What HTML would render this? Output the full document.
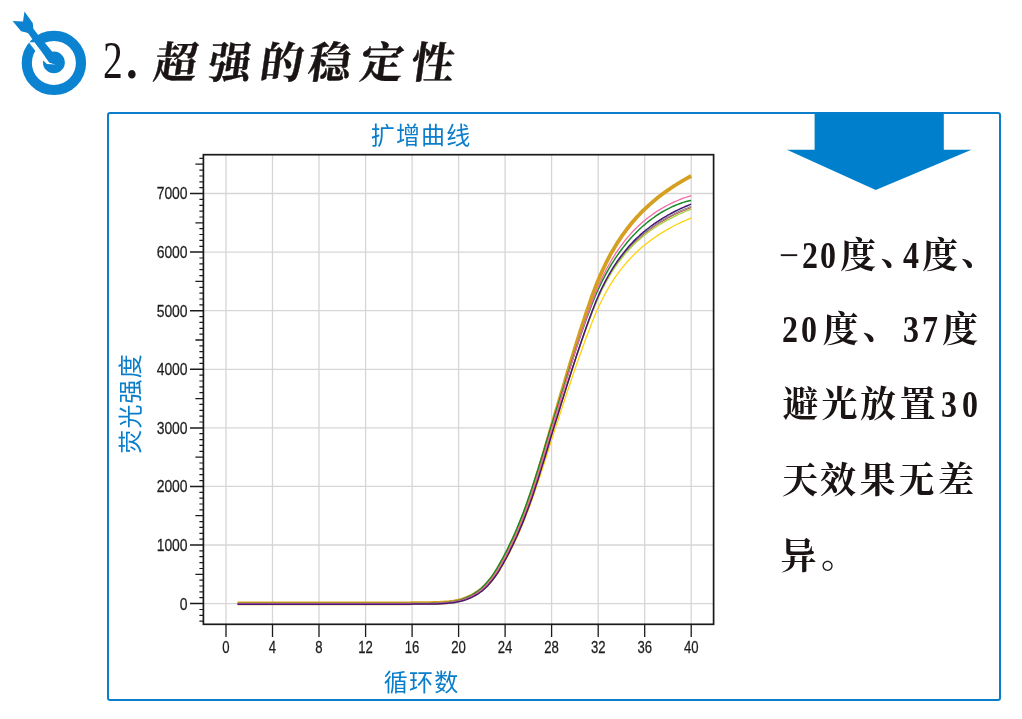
<!DOCTYPE html>
<html lang="zh-CN">
<head>
<meta charset="utf-8">
<title>2. 超强的稳定性</title>
<style>
html,body{margin:0;padding:0;background:#fff;}
body{width:1022px;height:719px;position:relative;overflow:hidden;font-family:"Liberation Sans","Noto Sans CJK SC",sans-serif;}
.icon{position:absolute;left:0;top:0;}
.chart{position:absolute;left:0;top:0;}
.panel{position:absolute;left:107px;top:112px;width:890px;height:585px;border:2px solid #0a7ecb;border-radius:3px;}
.title{position:absolute;left:0;top:0;width:520px;height:110px;color:#1b1414;}
.title .num{position:absolute;left:102.5px;top:31px;font-family:"Liberation Serif","Noto Serif CJK SC",serif;font-size:52px;line-height:60px;transform:scaleX(0.76);transform-origin:0 0;white-space:pre;}
.title .num.dot{left:126px;font-weight:700;transform:scaleX(0.9);}
.title .zh span{position:absolute;top:34px;width:60px;text-align:center;font-family:"Liberation Serif","Noto Serif CJK SC",serif;font-weight:700;font-size:43px;line-height:60px;transform:skewX(-8deg);-webkit-text-stroke:0.4px #1b1414;}
.lbl{position:absolute;color:#0a7ecb;font-family:"Liberation Sans","Noto Sans CJK SC",sans-serif;font-size:24px;line-height:30px;white-space:nowrap;letter-spacing:1.2px;text-indent:1.2px;}
.ctitle{left:369.5px;top:120.5px;width:100px;text-align:center;}
.xlab{left:371px;top:667.5px;width:100px;text-align:center;}
.ylab{left:81.3px;top:389.5px;width:100px;text-align:center;transform:rotate(-90deg);}
.arrow{position:absolute;left:0;top:0;}
.ln{position:absolute;left:0;height:60px;width:1022px;}
.ln span{position:absolute;top:0;width:60px;text-align:center;line-height:60px;font-size:38px;color:#1b1414;font-weight:700;font-family:"Liberation Serif","Noto Serif CJK SC",serif;}
.ln span.c,.ln span.p{font-size:36px;}
.ln span.l{transform:translateY(-1.5px) scaleX(0.84);}
.ln span.m{font-weight:400;transform:translateY(-1px) scaleX(0.93);}
.ln span.p{transform:translate(10.5px,-3.5px);}
.ln span.q{font-size:36px;transform:translate(11px,-1.5px);}
</style>
</head>
<body>
<svg class="icon" width="100" height="100" viewBox="0 0 100 100">
<circle cx="53.9" cy="62.9" r="27.1" fill="none" stroke="#0b83d1" stroke-width="10.2"/>
<circle cx="53.9" cy="62.4" r="10.9" fill="#0b83d1"/>
<path d="M28.76,42.27 L35.64,51.28 L41.59,59.1 L46.9,64.1 L55.67,64.55 L49.4,62.55 L35.83,43.77 L34.77,42.27 Z" fill="#fff"/>
<path d="M24.47,11.6 L32.75,23.0 L33.4,28.86 L37.83,34.39 L51.9,51.28 L53.8,56.3 L55.67,64.55 L49.41,62.55 L28.14,33.14 L26.26,32.5 L21.07,31.3 L12.6,21.0 L23.0,21.6 Z" fill="#0b83d1"/>
</svg>
<div class="title"><div class="num">2</div><div class="num dot">.</div><div class="zh"><span style="left:146px">超</span><span style="left:199.5px">强</span><span style="left:251.5px">的</span><span style="left:299.5px">稳</span><span style="left:351.5px">定</span><span style="left:403px">性</span></div></div>
<div class="panel"></div>
<div class="lbl ctitle">扩增曲线</div>
<svg class="chart" width="1022" height="719" viewBox="0 0 1022 719">
<path d="M226.0,154.7 V624.3 M272.5,154.7 V624.3 M319.0,154.7 V624.3 M365.6,154.7 V624.3 M412.1,154.7 V624.3 M458.6,154.7 V624.3 M505.1,154.7 V624.3 M551.6,154.7 V624.3 M598.2,154.7 V624.3 M644.7,154.7 V624.3 M691.2,154.7 V624.3 M203.4,603.6 H713.6 M203.4,545.0 H713.6 M203.4,486.4 H713.6 M203.4,427.9 H713.6 M203.4,369.3 H713.6 M203.4,310.7 H713.6 M203.4,252.1 H713.6 M203.4,193.5 H713.6" stroke="#d6d6d6" stroke-width="1.3" fill="none"/>
<path d="M237.6,603.3 L239.6,603.3 L241.5,603.3 L243.4,603.3 L245.4,603.3 L247.3,603.3 L249.3,603.3 L251.2,603.3 L253.1,603.3 L255.1,603.3 L257.0,603.3 L259.0,603.3 L260.9,603.3 L262.8,603.3 L264.8,603.3 L266.7,603.3 L268.6,603.3 L270.6,603.3 L272.5,603.3 L274.5,603.3 L276.4,603.3 L278.3,603.3 L280.3,603.3 L282.2,603.3 L284.1,603.3 L286.1,603.3 L288.0,603.3 L290.0,603.3 L291.9,603.3 L293.8,603.3 L295.8,603.3 L297.7,603.3 L299.7,603.3 L301.6,603.3 L303.5,603.3 L305.5,603.3 L307.4,603.3 L309.3,603.3 L311.3,603.3 L313.2,603.3 L315.2,603.3 L317.1,603.3 L319.0,603.3 L321.0,603.3 L322.9,603.3 L324.9,603.3 L326.8,603.3 L328.7,603.3 L330.7,603.3 L332.6,603.3 L334.5,603.3 L336.5,603.3 L338.4,603.3 L340.4,603.3 L342.3,603.3 L344.2,603.3 L346.2,603.3 L348.1,603.3 L350.1,603.3 L352.0,603.3 L353.9,603.3 L355.9,603.3 L357.8,603.3 L359.7,603.3 L361.7,603.3 L363.6,603.3 L365.6,603.3 L367.5,603.3 L369.4,603.3 L371.4,603.3 L373.3,603.3 L375.3,603.3 L377.2,603.3 L379.1,603.3 L381.1,603.3 L383.0,603.3 L384.9,603.3 L386.9,603.3 L388.8,603.3 L390.8,603.3 L392.7,603.3 L394.6,603.3 L396.6,603.3 L398.5,603.3 L400.5,603.3 L402.4,603.3 L404.3,603.3 L406.3,603.3 L408.2,603.3 L410.1,603.3 L412.1,603.2 L414.0,603.2 L416.0,603.2 L417.9,603.2 L419.8,603.2 L421.8,603.2 L423.7,603.2 L425.6,603.2 L427.6,603.1 L429.5,603.1 L431.5,603.1 L433.4,603.0 L435.3,603.0 L437.3,602.9 L439.2,602.8 L441.2,602.7 L443.1,602.6 L445.0,602.4 L447.0,602.3 L448.9,602.1 L450.8,601.8 L452.8,601.6 L454.7,601.3 L456.7,600.9 L458.6,600.5 L460.5,600.1 L462.5,599.5 L464.4,598.8 L466.4,598.1 L468.3,597.3 L470.2,596.4 L472.2,595.5 L474.1,594.4 L476.0,593.2 L478.0,591.9 L479.9,590.5 L481.9,589.0 L483.8,587.2 L485.7,585.3 L487.7,583.2 L489.6,580.9 L491.6,578.4 L493.5,575.9 L495.4,573.1 L497.4,570.1 L499.3,566.8 L501.2,563.4 L503.2,559.9 L505.1,556.4 L507.1,552.7 L509.0,548.9 L510.9,544.9 L512.9,540.8 L514.8,536.6 L516.8,532.2 L518.7,527.7 L520.6,523.1 L522.6,518.2 L524.5,513.2 L526.4,508.1 L528.4,502.7 L530.3,497.1 L532.3,491.2 L534.2,485.1 L536.1,478.9 L538.1,472.5 L540.0,466.2 L541.9,459.7 L543.9,453.1 L545.8,446.4 L547.8,439.6 L549.7,432.9 L551.6,426.3 L553.6,419.7 L555.5,413.1 L557.5,406.6 L559.4,400.0 L561.3,393.5 L563.3,387.0 L565.2,380.5 L567.1,374.0 L569.1,367.5 L571.0,361.0 L573.0,354.7 L574.9,348.4 L576.8,342.2 L578.8,336.0 L580.7,329.9 L582.7,323.9 L584.6,318.0 L586.5,312.2 L588.5,306.6 L590.4,300.9 L592.3,295.5 L594.3,290.1 L596.2,285.1 L598.2,280.3 L600.1,275.8 L602.0,271.4 L604.0,267.2 L605.9,263.2 L607.9,259.4 L609.8,255.7 L611.7,252.2 L613.7,248.9 L615.6,245.7 L617.5,242.6 L619.5,239.6 L621.4,236.7 L623.4,233.9 L625.3,231.3 L627.2,228.7 L629.2,226.2 L631.1,223.8 L633.0,221.5 L635.0,219.2 L636.9,217.1 L638.9,215.0 L640.8,212.9 L642.7,211.0 L644.7,209.1 L646.6,207.3 L648.6,205.5 L650.5,203.8 L652.4,202.1 L654.4,200.5 L656.3,198.9 L658.2,197.3 L660.2,195.8 L662.1,194.3 L664.1,192.9 L666.0,191.5 L667.9,190.1 L669.9,188.8 L671.8,187.5 L673.8,186.2 L675.7,185.0 L677.6,183.7 L679.6,182.6 L681.5,181.4 L683.4,180.3 L685.4,179.2 L687.3,178.1 L689.3,177.0 L691.2,176.0" stroke="#d5a021" stroke-width="3.8" fill="none" stroke-linejoin="round"/>
<path d="M237.6,603.6 L239.6,603.6 L241.5,603.6 L243.4,603.6 L245.4,603.6 L247.3,603.6 L249.3,603.6 L251.2,603.6 L253.1,603.6 L255.1,603.6 L257.0,603.6 L259.0,603.6 L260.9,603.6 L262.8,603.6 L264.8,603.6 L266.7,603.6 L268.6,603.6 L270.6,603.6 L272.5,603.6 L274.5,603.6 L276.4,603.6 L278.3,603.6 L280.3,603.6 L282.2,603.6 L284.1,603.6 L286.1,603.6 L288.0,603.6 L290.0,603.6 L291.9,603.6 L293.8,603.6 L295.8,603.6 L297.7,603.6 L299.7,603.6 L301.6,603.6 L303.5,603.6 L305.5,603.6 L307.4,603.6 L309.3,603.6 L311.3,603.6 L313.2,603.6 L315.2,603.6 L317.1,603.6 L319.0,603.6 L321.0,603.6 L322.9,603.6 L324.9,603.6 L326.8,603.6 L328.7,603.6 L330.7,603.6 L332.6,603.6 L334.5,603.6 L336.5,603.6 L338.4,603.6 L340.4,603.6 L342.3,603.6 L344.2,603.6 L346.2,603.6 L348.1,603.6 L350.1,603.6 L352.0,603.6 L353.9,603.6 L355.9,603.6 L357.8,603.6 L359.7,603.6 L361.7,603.6 L363.6,603.6 L365.6,603.6 L367.5,603.6 L369.4,603.6 L371.4,603.6 L373.3,603.6 L375.3,603.6 L377.2,603.6 L379.1,603.6 L381.1,603.6 L383.0,603.6 L384.9,603.6 L386.9,603.6 L388.8,603.6 L390.8,603.6 L392.7,603.6 L394.6,603.6 L396.6,603.6 L398.5,603.6 L400.5,603.6 L402.4,603.6 L404.3,603.6 L406.3,603.6 L408.2,603.6 L410.1,603.6 L412.1,603.6 L414.0,603.5 L416.0,603.5 L417.9,603.5 L419.8,603.5 L421.8,603.5 L423.7,603.5 L425.6,603.5 L427.6,603.5 L429.5,603.4 L431.5,603.4 L433.4,603.4 L435.3,603.4 L437.3,603.3 L439.2,603.2 L441.2,603.2 L443.1,603.0 L445.0,602.9 L447.0,602.8 L448.9,602.6 L450.8,602.4 L452.8,602.2 L454.7,601.9 L456.7,601.6 L458.6,601.3 L460.5,600.9 L462.5,600.5 L464.4,599.9 L466.4,599.3 L468.3,598.5 L470.2,597.7 L472.2,596.9 L474.1,596.0 L476.0,594.9 L478.0,593.7 L479.9,592.5 L481.9,591.1 L483.8,589.6 L485.7,587.9 L487.7,586.0 L489.6,583.9 L491.6,581.6 L493.5,579.2 L495.4,576.7 L497.4,574.0 L499.3,571.0 L501.2,567.8 L503.2,564.4 L505.1,560.9 L507.1,557.4 L509.0,553.7 L510.9,550.0 L512.9,546.0 L514.8,541.9 L516.8,537.7 L518.7,533.4 L520.6,528.9 L522.6,524.3 L524.5,519.5 L526.4,514.6 L528.4,509.4 L530.3,504.4 L532.3,499.1 L534.2,493.6 L536.1,487.9 L538.1,482.1 L540.0,476.2 L541.9,470.3 L543.9,464.4 L545.8,458.3 L547.8,452.1 L549.7,445.9 L551.6,439.7 L553.6,433.6 L555.5,427.6 L557.5,421.7 L559.4,415.7 L561.3,409.8 L563.3,404.0 L565.2,398.1 L567.1,392.3 L569.1,386.5 L571.0,380.7 L573.0,374.9 L574.9,369.2 L576.8,363.7 L578.8,358.1 L580.7,352.7 L582.7,347.3 L584.6,342.0 L586.5,336.8 L588.5,331.7 L590.4,326.7 L592.3,321.8 L594.3,317.0 L596.2,312.3 L598.2,307.9 L600.1,303.7 L602.0,299.8 L604.0,296.0 L605.9,292.4 L607.9,289.0 L609.8,285.7 L611.7,282.6 L613.7,279.6 L615.6,276.7 L617.5,274.0 L619.5,271.4 L621.4,268.8 L623.4,266.4 L625.3,264.1 L627.2,261.8 L629.2,259.7 L631.1,257.6 L633.0,255.6 L635.0,253.7 L636.9,251.8 L638.9,250.0 L640.8,248.3 L642.7,246.6 L644.7,245.0 L646.6,243.4 L648.6,241.9 L650.5,240.5 L652.4,239.1 L654.4,237.7 L656.3,236.4 L658.2,235.1 L660.2,233.8 L662.1,232.6 L664.1,231.4 L666.0,230.3 L667.9,229.1 L669.9,228.1 L671.8,227.0 L673.8,226.0 L675.7,225.0 L677.6,224.0 L679.6,223.1 L681.5,222.2 L683.4,221.3 L685.4,220.5 L687.3,219.7 L689.3,218.9 L691.2,218.1" stroke="#ffd10a" stroke-width="1.3" fill="none" stroke-linejoin="round"/>
<path d="M237.6,603.6 L239.6,603.6 L241.5,603.6 L243.4,603.6 L245.4,603.6 L247.3,603.6 L249.3,603.6 L251.2,603.6 L253.1,603.6 L255.1,603.6 L257.0,603.6 L259.0,603.6 L260.9,603.6 L262.8,603.6 L264.8,603.6 L266.7,603.6 L268.6,603.6 L270.6,603.6 L272.5,603.6 L274.5,603.6 L276.4,603.6 L278.3,603.6 L280.3,603.6 L282.2,603.6 L284.1,603.6 L286.1,603.6 L288.0,603.6 L290.0,603.6 L291.9,603.6 L293.8,603.6 L295.8,603.6 L297.7,603.6 L299.7,603.6 L301.6,603.6 L303.5,603.6 L305.5,603.6 L307.4,603.6 L309.3,603.6 L311.3,603.6 L313.2,603.6 L315.2,603.6 L317.1,603.6 L319.0,603.6 L321.0,603.6 L322.9,603.6 L324.9,603.6 L326.8,603.6 L328.7,603.6 L330.7,603.6 L332.6,603.6 L334.5,603.6 L336.5,603.6 L338.4,603.6 L340.4,603.6 L342.3,603.6 L344.2,603.6 L346.2,603.6 L348.1,603.6 L350.1,603.6 L352.0,603.6 L353.9,603.6 L355.9,603.6 L357.8,603.6 L359.7,603.6 L361.7,603.6 L363.6,603.6 L365.6,603.6 L367.5,603.6 L369.4,603.6 L371.4,603.6 L373.3,603.6 L375.3,603.6 L377.2,603.6 L379.1,603.6 L381.1,603.6 L383.0,603.6 L384.9,603.6 L386.9,603.6 L388.8,603.6 L390.8,603.6 L392.7,603.6 L394.6,603.6 L396.6,603.6 L398.5,603.6 L400.5,603.6 L402.4,603.6 L404.3,603.6 L406.3,603.6 L408.2,603.6 L410.1,603.6 L412.1,603.5 L414.0,603.5 L416.0,603.5 L417.9,603.5 L419.8,603.5 L421.8,603.5 L423.7,603.5 L425.6,603.5 L427.6,603.5 L429.5,603.4 L431.5,603.4 L433.4,603.4 L435.3,603.3 L437.3,603.3 L439.2,603.2 L441.2,603.1 L443.1,603.0 L445.0,602.8 L447.0,602.7 L448.9,602.5 L450.8,602.3 L452.8,602.1 L454.7,601.8 L456.7,601.5 L458.6,601.1 L460.5,600.7 L462.5,600.2 L464.4,599.6 L466.4,598.9 L468.3,598.1 L470.2,597.3 L472.2,596.4 L474.1,595.4 L476.0,594.3 L478.0,593.1 L479.9,591.7 L481.9,590.3 L483.8,588.7 L485.7,586.9 L487.7,584.9 L489.6,582.7 L491.6,580.4 L493.5,577.9 L495.4,575.3 L497.4,572.4 L499.3,569.3 L501.2,566.0 L503.2,562.6 L505.1,559.0 L507.1,555.4 L509.0,551.7 L510.9,547.8 L512.9,543.8 L514.8,539.7 L516.8,535.4 L518.7,531.0 L520.6,526.4 L522.6,521.7 L524.5,516.9 L526.4,511.8 L528.4,506.6 L530.3,501.3 L532.3,495.8 L534.2,490.0 L536.1,484.1 L538.1,478.0 L540.0,471.9 L541.9,465.8 L543.9,459.6 L545.8,453.2 L547.8,446.8 L549.7,440.3 L551.6,434.0 L553.6,427.7 L555.5,421.5 L557.5,415.3 L559.4,409.1 L561.3,403.0 L563.3,396.9 L565.2,390.8 L567.1,384.7 L569.1,378.6 L571.0,372.6 L573.0,366.6 L574.9,360.7 L576.8,355.0 L578.8,349.2 L580.7,343.5 L582.7,337.9 L584.6,332.4 L586.5,327.0 L588.5,321.8 L590.4,316.6 L592.3,311.5 L594.3,306.6 L596.2,301.8 L598.2,297.3 L600.1,293.1 L602.0,289.1 L604.0,285.2 L605.9,281.5 L607.9,278.0 L609.8,274.7 L611.7,271.5 L613.7,268.4 L615.6,265.5 L617.5,262.8 L619.5,260.1 L621.4,257.5 L623.4,255.1 L625.3,252.7 L627.2,250.5 L629.2,248.3 L631.1,246.2 L633.0,244.2 L635.0,242.2 L636.9,240.4 L638.9,238.6 L640.8,236.9 L642.7,235.2 L644.7,233.6 L646.6,232.1 L648.6,230.6 L650.5,229.1 L652.4,227.8 L654.4,226.4 L656.3,225.1 L658.2,223.9 L660.2,222.6 L662.1,221.5 L664.1,220.3 L666.0,219.2 L667.9,218.1 L669.9,217.1 L671.8,216.1 L673.8,215.1 L675.7,214.1 L677.6,213.2 L679.6,212.3 L681.5,211.5 L683.4,210.7 L685.4,209.9 L687.3,209.1 L689.3,208.3 L691.2,207.6" stroke="#c0504d" stroke-width="1.1" fill="none" stroke-linejoin="round"/>
<path d="M237.6,603.6 L239.6,603.6 L241.5,603.6 L243.4,603.6 L245.4,603.6 L247.3,603.6 L249.3,603.6 L251.2,603.6 L253.1,603.6 L255.1,603.6 L257.0,603.6 L259.0,603.6 L260.9,603.6 L262.8,603.6 L264.8,603.6 L266.7,603.6 L268.6,603.6 L270.6,603.6 L272.5,603.6 L274.5,603.6 L276.4,603.6 L278.3,603.6 L280.3,603.6 L282.2,603.6 L284.1,603.6 L286.1,603.6 L288.0,603.6 L290.0,603.6 L291.9,603.6 L293.8,603.6 L295.8,603.6 L297.7,603.6 L299.7,603.6 L301.6,603.6 L303.5,603.6 L305.5,603.6 L307.4,603.6 L309.3,603.6 L311.3,603.6 L313.2,603.6 L315.2,603.6 L317.1,603.6 L319.0,603.6 L321.0,603.6 L322.9,603.6 L324.9,603.6 L326.8,603.6 L328.7,603.6 L330.7,603.6 L332.6,603.6 L334.5,603.6 L336.5,603.6 L338.4,603.6 L340.4,603.6 L342.3,603.6 L344.2,603.6 L346.2,603.6 L348.1,603.6 L350.1,603.6 L352.0,603.6 L353.9,603.6 L355.9,603.6 L357.8,603.6 L359.7,603.6 L361.7,603.6 L363.6,603.6 L365.6,603.6 L367.5,603.6 L369.4,603.6 L371.4,603.6 L373.3,603.6 L375.3,603.6 L377.2,603.6 L379.1,603.6 L381.1,603.6 L383.0,603.6 L384.9,603.6 L386.9,603.6 L388.8,603.6 L390.8,603.6 L392.7,603.6 L394.6,603.6 L396.6,603.6 L398.5,603.6 L400.5,603.6 L402.4,603.6 L404.3,603.6 L406.3,603.6 L408.2,603.6 L410.1,603.6 L412.1,603.5 L414.0,603.5 L416.0,603.5 L417.9,603.5 L419.8,603.5 L421.8,603.5 L423.7,603.5 L425.6,603.5 L427.6,603.5 L429.5,603.4 L431.5,603.4 L433.4,603.4 L435.3,603.3 L437.3,603.3 L439.2,603.2 L441.2,603.1 L443.1,603.0 L445.0,602.8 L447.0,602.7 L448.9,602.5 L450.8,602.3 L452.8,602.1 L454.7,601.8 L456.7,601.5 L458.6,601.1 L460.5,600.7 L462.5,600.2 L464.4,599.6 L466.4,598.9 L468.3,598.1 L470.2,597.3 L472.2,596.4 L474.1,595.4 L476.0,594.3 L478.0,593.1 L479.9,591.7 L481.9,590.3 L483.8,588.7 L485.7,586.9 L487.7,584.9 L489.6,582.7 L491.6,580.4 L493.5,577.9 L495.4,575.3 L497.4,572.4 L499.3,569.3 L501.2,566.0 L503.2,562.6 L505.1,559.0 L507.1,555.4 L509.0,551.7 L510.9,547.8 L512.9,543.8 L514.8,539.7 L516.8,535.4 L518.7,531.0 L520.6,526.4 L522.6,521.7 L524.5,516.9 L526.4,511.8 L528.4,506.6 L530.3,501.3 L532.3,495.8 L534.2,490.0 L536.1,484.0 L538.1,478.0 L540.0,471.9 L541.9,465.8 L543.9,459.5 L545.8,453.1 L547.8,446.7 L549.7,440.3 L551.6,433.9 L553.6,427.6 L555.5,421.4 L557.5,415.2 L559.4,409.0 L561.3,402.9 L563.3,396.8 L565.2,390.7 L567.1,384.5 L569.1,378.5 L571.0,372.4 L573.0,366.4 L574.9,360.5 L576.8,354.7 L578.8,348.9 L580.7,343.2 L582.7,337.6 L584.6,332.0 L586.5,326.7 L588.5,321.4 L590.4,316.2 L592.3,311.1 L594.3,306.1 L596.2,301.3 L598.2,296.8 L600.1,292.6 L602.0,288.5 L604.0,284.6 L605.9,280.9 L607.9,277.4 L609.8,274.0 L611.7,270.8 L613.7,267.8 L615.6,264.8 L617.5,262.0 L619.5,259.4 L621.4,256.8 L623.4,254.3 L625.3,251.9 L627.2,249.6 L629.2,247.4 L631.1,245.3 L633.0,243.3 L635.0,241.3 L636.9,239.4 L638.9,237.6 L640.8,235.9 L642.7,234.2 L644.7,232.6 L646.6,231.0 L648.6,229.5 L650.5,228.1 L652.4,226.7 L654.4,225.3 L656.3,224.0 L658.2,222.8 L660.2,221.5 L662.1,220.3 L664.1,219.2 L666.0,218.0 L667.9,217.0 L669.9,215.9 L671.8,214.9 L673.8,213.9 L675.7,213.0 L677.6,212.0 L679.6,211.1 L681.5,210.3 L683.4,209.5 L685.4,208.6 L687.3,207.9 L689.3,207.1 L691.2,206.4" stroke="#8c8c8c" stroke-width="1.1" fill="none" stroke-linejoin="round"/>
<path d="M237.6,603.6 L239.6,603.6 L241.5,603.6 L243.4,603.6 L245.4,603.6 L247.3,603.6 L249.3,603.6 L251.2,603.6 L253.1,603.6 L255.1,603.6 L257.0,603.6 L259.0,603.6 L260.9,603.6 L262.8,603.6 L264.8,603.6 L266.7,603.6 L268.6,603.6 L270.6,603.6 L272.5,603.6 L274.5,603.6 L276.4,603.6 L278.3,603.6 L280.3,603.6 L282.2,603.6 L284.1,603.6 L286.1,603.6 L288.0,603.6 L290.0,603.6 L291.9,603.6 L293.8,603.6 L295.8,603.6 L297.7,603.6 L299.7,603.6 L301.6,603.6 L303.5,603.6 L305.5,603.6 L307.4,603.6 L309.3,603.6 L311.3,603.6 L313.2,603.6 L315.2,603.6 L317.1,603.6 L319.0,603.6 L321.0,603.6 L322.9,603.6 L324.9,603.6 L326.8,603.6 L328.7,603.6 L330.7,603.6 L332.6,603.6 L334.5,603.6 L336.5,603.6 L338.4,603.6 L340.4,603.6 L342.3,603.6 L344.2,603.6 L346.2,603.6 L348.1,603.6 L350.1,603.6 L352.0,603.6 L353.9,603.6 L355.9,603.6 L357.8,603.6 L359.7,603.6 L361.7,603.6 L363.6,603.6 L365.6,603.6 L367.5,603.6 L369.4,603.6 L371.4,603.6 L373.3,603.6 L375.3,603.6 L377.2,603.6 L379.1,603.6 L381.1,603.6 L383.0,603.6 L384.9,603.6 L386.9,603.6 L388.8,603.6 L390.8,603.6 L392.7,603.6 L394.6,603.6 L396.6,603.6 L398.5,603.6 L400.5,603.6 L402.4,603.6 L404.3,603.6 L406.3,603.6 L408.2,603.6 L410.1,603.6 L412.1,603.5 L414.0,603.5 L416.0,603.5 L417.9,603.5 L419.8,603.5 L421.8,603.5 L423.7,603.5 L425.6,603.5 L427.6,603.5 L429.5,603.4 L431.5,603.4 L433.4,603.4 L435.3,603.3 L437.3,603.3 L439.2,603.2 L441.2,603.1 L443.1,603.0 L445.0,602.9 L447.0,602.7 L448.9,602.5 L450.8,602.3 L452.8,602.1 L454.7,601.8 L456.7,601.5 L458.6,601.1 L460.5,600.7 L462.5,600.2 L464.4,599.6 L466.4,599.0 L468.3,598.2 L470.2,597.4 L472.2,596.5 L474.1,595.5 L476.0,594.4 L478.0,593.2 L479.9,591.9 L481.9,590.5 L483.8,588.9 L485.7,587.1 L487.7,585.1 L489.6,583.0 L491.6,580.6 L493.5,578.2 L495.4,575.6 L497.4,572.8 L499.3,569.7 L501.2,566.4 L503.2,563.0 L505.1,559.5 L507.1,555.9 L509.0,552.2 L510.9,548.3 L512.9,544.3 L514.8,540.2 L516.8,535.9 L518.7,531.5 L520.6,527.0 L522.6,522.3 L524.5,517.5 L526.4,512.4 L528.4,507.2 L530.3,502.0 L532.3,496.4 L534.2,490.7 L536.1,484.7 L538.1,478.7 L540.0,472.6 L541.9,466.5 L543.9,460.2 L545.8,453.8 L547.8,447.4 L549.7,440.9 L551.6,434.6 L553.6,428.3 L555.5,422.0 L557.5,415.8 L559.4,409.7 L561.3,403.5 L563.3,397.4 L565.2,391.3 L567.1,385.2 L569.1,379.1 L571.0,373.1 L573.0,367.1 L574.9,361.2 L576.8,355.4 L578.8,349.7 L580.7,344.0 L582.7,338.4 L584.6,332.9 L586.5,327.6 L588.5,322.3 L590.4,317.2 L592.3,312.1 L594.3,307.2 L596.2,302.4 L598.2,297.9 L600.1,293.7 L602.0,289.7 L604.0,285.9 L605.9,282.2 L607.9,278.7 L609.8,275.4 L611.7,272.2 L613.7,269.2 L615.6,266.4 L617.5,263.6 L619.5,261.0 L621.4,258.5 L623.4,256.1 L625.3,253.7 L627.2,251.5 L629.2,249.4 L631.1,247.3 L633.0,245.3 L635.0,243.4 L636.9,241.6 L638.9,239.9 L640.8,238.2 L642.7,236.6 L644.7,235.0 L646.6,233.5 L648.6,232.0 L650.5,230.6 L652.4,229.3 L654.4,228.0 L656.3,226.7 L658.2,225.5 L660.2,224.3 L662.1,223.1 L664.1,222.0 L666.0,220.9 L667.9,219.8 L669.9,218.8 L671.8,217.8 L673.8,216.8 L675.7,215.8 L677.6,214.9 L679.6,214.0 L681.5,213.1 L683.4,212.3 L685.4,211.5 L687.3,210.6 L689.3,209.9 L691.2,209.1" stroke="#a6d23a" stroke-width="1.3" fill="none" stroke-linejoin="round"/>
<path d="M237.6,603.6 L239.6,603.6 L241.5,603.6 L243.4,603.6 L245.4,603.6 L247.3,603.6 L249.3,603.6 L251.2,603.6 L253.1,603.6 L255.1,603.6 L257.0,603.6 L259.0,603.6 L260.9,603.6 L262.8,603.6 L264.8,603.6 L266.7,603.6 L268.6,603.6 L270.6,603.6 L272.5,603.6 L274.5,603.6 L276.4,603.6 L278.3,603.6 L280.3,603.6 L282.2,603.6 L284.1,603.6 L286.1,603.6 L288.0,603.6 L290.0,603.6 L291.9,603.6 L293.8,603.6 L295.8,603.6 L297.7,603.6 L299.7,603.6 L301.6,603.6 L303.5,603.6 L305.5,603.6 L307.4,603.6 L309.3,603.6 L311.3,603.6 L313.2,603.6 L315.2,603.6 L317.1,603.6 L319.0,603.6 L321.0,603.6 L322.9,603.6 L324.9,603.6 L326.8,603.6 L328.7,603.6 L330.7,603.6 L332.6,603.6 L334.5,603.6 L336.5,603.6 L338.4,603.6 L340.4,603.6 L342.3,603.6 L344.2,603.6 L346.2,603.6 L348.1,603.6 L350.1,603.6 L352.0,603.6 L353.9,603.6 L355.9,603.6 L357.8,603.6 L359.7,603.6 L361.7,603.6 L363.6,603.6 L365.6,603.6 L367.5,603.6 L369.4,603.6 L371.4,603.6 L373.3,603.6 L375.3,603.6 L377.2,603.6 L379.1,603.6 L381.1,603.6 L383.0,603.6 L384.9,603.6 L386.9,603.6 L388.8,603.6 L390.8,603.6 L392.7,603.6 L394.6,603.6 L396.6,603.6 L398.5,603.6 L400.5,603.6 L402.4,603.6 L404.3,603.6 L406.3,603.6 L408.2,603.6 L410.1,603.5 L412.1,603.5 L414.0,603.5 L416.0,603.5 L417.9,603.5 L419.8,603.5 L421.8,603.5 L423.7,603.5 L425.6,603.4 L427.6,603.4 L429.5,603.4 L431.5,603.3 L433.4,603.3 L435.3,603.2 L437.3,603.2 L439.2,603.0 L441.2,602.9 L443.1,602.8 L445.0,602.6 L447.0,602.4 L448.9,602.2 L450.8,601.9 L452.8,601.6 L454.7,601.3 L456.7,600.9 L458.6,600.4 L460.5,599.9 L462.5,599.2 L464.4,598.5 L466.4,597.7 L468.3,596.8 L470.2,595.9 L472.2,594.9 L474.1,593.7 L476.0,592.4 L478.0,591.0 L479.9,589.5 L481.9,587.8 L483.8,585.9 L485.7,583.8 L487.7,581.5 L489.6,579.1 L491.6,576.6 L493.5,573.9 L495.4,570.9 L497.4,567.7 L499.3,564.3 L501.2,560.8 L503.2,557.3 L505.1,553.6 L507.1,549.8 L509.0,545.9 L510.9,541.8 L512.9,537.6 L514.8,533.2 L516.8,528.7 L518.7,524.1 L520.6,519.3 L522.6,514.4 L524.5,509.2 L526.4,503.9 L528.4,498.3 L530.3,492.7 L532.3,486.9 L534.2,481.0 L536.1,475.0 L538.1,469.0 L540.0,462.8 L541.9,456.6 L543.9,450.2 L545.8,443.8 L547.8,437.5 L549.7,431.2 L551.6,425.0 L553.6,418.9 L555.5,412.7 L557.5,406.6 L559.4,400.4 L561.3,394.3 L563.3,388.2 L565.2,382.1 L567.1,376.0 L569.1,370.0 L571.0,364.0 L573.0,358.1 L574.9,352.2 L576.8,346.4 L578.8,340.7 L580.7,335.0 L582.7,329.5 L584.6,324.0 L586.5,318.7 L588.5,313.4 L590.4,308.2 L592.3,303.2 L594.3,298.4 L596.2,293.8 L598.2,289.5 L600.1,285.4 L602.0,281.4 L604.0,277.6 L605.9,273.9 L607.9,270.5 L609.8,267.1 L611.7,263.9 L613.7,260.9 L615.6,257.9 L617.5,255.1 L619.5,252.3 L621.4,249.7 L623.4,247.1 L625.3,244.7 L627.2,242.3 L629.2,240.0 L631.1,237.8 L633.0,235.7 L635.0,233.7 L636.9,231.7 L638.9,229.8 L640.8,228.0 L642.7,226.3 L644.7,224.6 L646.6,223.0 L648.6,221.4 L650.5,219.9 L652.4,218.5 L654.4,217.1 L656.3,215.7 L658.2,214.5 L660.2,213.2 L662.1,212.0 L664.1,210.9 L666.0,209.8 L667.9,208.8 L669.9,207.8 L671.8,206.9 L673.8,206.0 L675.7,205.2 L677.6,204.4 L679.6,203.7 L681.5,203.0 L683.4,202.4 L685.4,201.8 L687.3,201.3 L689.3,200.8 L691.2,200.4" stroke="#1b8a2a" stroke-width="1.5" fill="none" stroke-linejoin="round"/>
<path d="M237.6,603.6 L239.6,603.6 L241.5,603.6 L243.4,603.6 L245.4,603.6 L247.3,603.6 L249.3,603.6 L251.2,603.6 L253.1,603.6 L255.1,603.6 L257.0,603.6 L259.0,603.6 L260.9,603.6 L262.8,603.6 L264.8,603.6 L266.7,603.6 L268.6,603.6 L270.6,603.6 L272.5,603.6 L274.5,603.6 L276.4,603.6 L278.3,603.6 L280.3,603.6 L282.2,603.6 L284.1,603.6 L286.1,603.6 L288.0,603.6 L290.0,603.6 L291.9,603.6 L293.8,603.6 L295.8,603.6 L297.7,603.6 L299.7,603.6 L301.6,603.6 L303.5,603.6 L305.5,603.6 L307.4,603.6 L309.3,603.6 L311.3,603.6 L313.2,603.6 L315.2,603.6 L317.1,603.6 L319.0,603.6 L321.0,603.6 L322.9,603.6 L324.9,603.6 L326.8,603.6 L328.7,603.6 L330.7,603.6 L332.6,603.6 L334.5,603.6 L336.5,603.6 L338.4,603.6 L340.4,603.6 L342.3,603.6 L344.2,603.6 L346.2,603.6 L348.1,603.6 L350.1,603.6 L352.0,603.6 L353.9,603.6 L355.9,603.6 L357.8,603.6 L359.7,603.6 L361.7,603.6 L363.6,603.6 L365.6,603.6 L367.5,603.6 L369.4,603.6 L371.4,603.6 L373.3,603.6 L375.3,603.6 L377.2,603.6 L379.1,603.6 L381.1,603.6 L383.0,603.6 L384.9,603.6 L386.9,603.6 L388.8,603.6 L390.8,603.6 L392.7,603.6 L394.6,603.6 L396.6,603.6 L398.5,603.6 L400.5,603.6 L402.4,603.6 L404.3,603.6 L406.3,603.6 L408.2,603.6 L410.1,603.6 L412.1,603.5 L414.0,603.5 L416.0,603.5 L417.9,603.5 L419.8,603.5 L421.8,603.5 L423.7,603.5 L425.6,603.5 L427.6,603.4 L429.5,603.4 L431.5,603.4 L433.4,603.4 L435.3,603.3 L437.3,603.2 L439.2,603.2 L441.2,603.0 L443.1,602.9 L445.0,602.8 L447.0,602.6 L448.9,602.4 L450.8,602.2 L452.8,601.9 L454.7,601.6 L456.7,601.3 L458.6,600.9 L460.5,600.4 L462.5,599.9 L464.4,599.2 L466.4,598.5 L468.3,597.7 L470.2,596.9 L472.2,595.9 L474.1,594.9 L476.0,593.7 L478.0,592.4 L479.9,591.0 L481.9,589.5 L483.8,587.9 L485.7,586.0 L487.7,583.9 L489.6,581.6 L491.6,579.2 L493.5,576.7 L495.4,573.9 L497.4,570.9 L499.3,567.7 L501.2,564.4 L503.2,560.9 L505.1,557.3 L507.1,553.7 L509.0,549.9 L510.9,545.9 L512.9,541.9 L514.8,537.6 L516.8,533.3 L518.7,528.8 L520.6,524.2 L522.6,519.4 L524.5,514.5 L526.4,509.3 L528.4,504.0 L530.3,498.5 L532.3,492.7 L534.2,486.7 L536.1,480.6 L538.1,474.4 L540.0,468.1 L541.9,461.8 L543.9,455.3 L545.8,448.7 L547.8,442.0 L549.7,435.4 L551.6,428.9 L553.6,422.4 L555.5,416.0 L557.5,409.6 L559.4,403.2 L561.3,396.8 L563.3,390.5 L565.2,384.1 L567.1,377.8 L569.1,371.4 L571.0,365.1 L573.0,358.9 L574.9,352.8 L576.8,346.7 L578.8,340.7 L580.7,334.8 L582.7,328.9 L584.6,323.2 L586.5,317.6 L588.5,312.1 L590.4,306.7 L592.3,301.4 L594.3,296.2 L596.2,291.3 L598.2,286.7 L600.1,282.3 L602.0,278.1 L604.0,274.1 L605.9,270.3 L607.9,266.6 L609.8,263.2 L611.7,259.8 L613.7,256.7 L615.6,253.6 L617.5,250.7 L619.5,247.9 L621.4,245.3 L623.4,242.7 L625.3,240.2 L627.2,237.9 L629.2,235.6 L631.1,233.4 L633.0,231.3 L635.0,229.3 L636.9,227.4 L638.9,225.5 L640.8,223.7 L642.7,222.0 L644.7,220.4 L646.6,218.8 L648.6,217.3 L650.5,215.9 L652.4,214.5 L654.4,213.1 L656.3,211.8 L658.2,210.6 L660.2,209.4 L662.1,208.2 L664.1,207.1 L666.0,206.0 L667.9,205.0 L669.9,204.0 L671.8,203.1 L673.8,202.2 L675.7,201.3 L677.6,200.5 L679.6,199.7 L681.5,198.9 L683.4,198.2 L685.4,197.5 L687.3,196.9 L689.3,196.3 L691.2,195.7" stroke="#f36aa5" stroke-width="1.3" fill="none" stroke-linejoin="round"/>
<path d="M237.6,604.2 L239.6,604.2 L241.5,604.2 L243.4,604.2 L245.4,604.2 L247.3,604.2 L249.3,604.2 L251.2,604.2 L253.1,604.2 L255.1,604.2 L257.0,604.2 L259.0,604.2 L260.9,604.2 L262.8,604.2 L264.8,604.2 L266.7,604.2 L268.6,604.2 L270.6,604.2 L272.5,604.2 L274.5,604.2 L276.4,604.2 L278.3,604.2 L280.3,604.2 L282.2,604.2 L284.1,604.2 L286.1,604.2 L288.0,604.2 L290.0,604.2 L291.9,604.2 L293.8,604.2 L295.8,604.2 L297.7,604.2 L299.7,604.2 L301.6,604.2 L303.5,604.2 L305.5,604.2 L307.4,604.2 L309.3,604.2 L311.3,604.2 L313.2,604.2 L315.2,604.2 L317.1,604.2 L319.0,604.2 L321.0,604.2 L322.9,604.2 L324.9,604.2 L326.8,604.2 L328.7,604.2 L330.7,604.2 L332.6,604.2 L334.5,604.2 L336.5,604.2 L338.4,604.2 L340.4,604.2 L342.3,604.2 L344.2,604.2 L346.2,604.2 L348.1,604.2 L350.1,604.2 L352.0,604.2 L353.9,604.2 L355.9,604.2 L357.8,604.2 L359.7,604.2 L361.7,604.2 L363.6,604.2 L365.6,604.2 L367.5,604.2 L369.4,604.2 L371.4,604.2 L373.3,604.2 L375.3,604.2 L377.2,604.2 L379.1,604.2 L381.1,604.2 L383.0,604.2 L384.9,604.2 L386.9,604.2 L388.8,604.2 L390.8,604.2 L392.7,604.2 L394.6,604.2 L396.6,604.2 L398.5,604.2 L400.5,604.2 L402.4,604.2 L404.3,604.2 L406.3,604.2 L408.2,604.2 L410.1,604.2 L412.1,604.1 L414.0,604.1 L416.0,604.1 L417.9,604.1 L419.8,604.1 L421.8,604.1 L423.7,604.1 L425.6,604.1 L427.6,604.1 L429.5,604.0 L431.5,604.0 L433.4,604.0 L435.3,603.9 L437.3,603.9 L439.2,603.8 L441.2,603.7 L443.1,603.6 L445.0,603.5 L447.0,603.3 L448.9,603.1 L450.8,602.9 L452.8,602.7 L454.7,602.4 L456.7,602.1 L458.6,601.7 L460.5,601.3 L462.5,600.8 L464.4,600.2 L466.4,599.6 L468.3,598.8 L470.2,598.0 L472.2,597.1 L474.1,596.1 L476.0,595.0 L478.0,593.8 L479.9,592.5 L481.9,591.1 L483.8,589.5 L485.7,587.7 L487.7,585.7 L489.6,583.6 L491.6,581.2 L493.5,578.8 L495.4,576.2 L497.4,573.4 L499.3,570.3 L501.2,567.0 L503.2,563.6 L505.1,560.1 L507.1,556.5 L509.0,552.8 L510.9,548.9 L512.9,544.9 L514.8,540.8 L516.8,536.5 L518.7,532.1 L520.6,527.6 L522.6,522.9 L524.5,518.1 L526.4,513.0 L528.4,507.8 L530.3,502.5 L532.3,497.0 L534.2,491.2 L536.1,485.3 L538.1,479.2 L540.0,473.0 L541.9,466.9 L543.9,460.6 L545.8,454.2 L547.8,447.7 L549.7,441.2 L551.6,434.8 L553.6,428.4 L555.5,422.2 L557.5,415.9 L559.4,409.7 L561.3,403.5 L563.3,397.3 L565.2,391.1 L567.1,385.0 L569.1,378.8 L571.0,372.7 L573.0,366.6 L574.9,360.7 L576.8,354.8 L578.8,349.0 L580.7,343.2 L582.7,337.5 L584.6,331.9 L586.5,326.4 L588.5,321.1 L590.4,315.9 L592.3,310.7 L594.3,305.7 L596.2,300.8 L598.2,296.2 L600.1,291.9 L602.0,287.8 L604.0,283.9 L605.9,280.1 L607.9,276.5 L609.8,273.1 L611.7,269.8 L613.7,266.7 L615.6,263.8 L617.5,260.9 L619.5,258.2 L621.4,255.6 L623.4,253.1 L625.3,250.7 L627.2,248.4 L629.2,246.1 L631.1,244.0 L633.0,241.9 L635.0,239.9 L636.9,238.0 L638.9,236.2 L640.8,234.4 L642.7,232.7 L644.7,231.1 L646.6,229.5 L648.6,228.0 L650.5,226.5 L652.4,225.1 L654.4,223.7 L656.3,222.4 L658.2,221.1 L660.2,219.8 L662.1,218.6 L664.1,217.4 L666.0,216.3 L667.9,215.2 L669.9,214.1 L671.8,213.0 L673.8,212.0 L675.7,211.0 L677.6,210.1 L679.6,209.1 L681.5,208.2 L683.4,207.4 L685.4,206.5 L687.3,205.7 L689.3,204.9 L691.2,204.1" stroke="#45187a" stroke-width="1.5" fill="none" stroke-linejoin="round"/>
<rect x="203.4" y="154.7" width="510.2" height="469.6" fill="none" stroke="#1a1a1a" stroke-width="1.7"/>
<path d="M199.4,621.2 H203.4 M199.4,615.3 H203.4 M199.4,609.5 H203.4 M199.4,597.7 H203.4 M199.4,591.9 H203.4 M199.4,586.0 H203.4 M199.4,580.2 H203.4 M199.4,568.5 H203.4 M199.4,562.6 H203.4 M199.4,556.7 H203.4 M199.4,550.9 H203.4 M199.4,539.2 H203.4 M199.4,533.3 H203.4 M199.4,527.4 H203.4 M199.4,521.6 H203.4 M199.4,509.9 H203.4 M199.4,504.0 H203.4 M199.4,498.2 H203.4 M199.4,492.3 H203.4 M199.4,480.6 H203.4 M199.4,474.7 H203.4 M199.4,468.9 H203.4 M199.4,463.0 H203.4 M199.4,451.3 H203.4 M199.4,445.4 H203.4 M199.4,439.6 H203.4 M199.4,433.7 H203.4 M199.4,422.0 H203.4 M199.4,416.1 H203.4 M199.4,410.3 H203.4 M199.4,404.4 H203.4 M199.4,392.7 H203.4 M199.4,386.9 H203.4 M199.4,381.0 H203.4 M199.4,375.1 H203.4 M199.4,363.4 H203.4 M199.4,357.6 H203.4 M199.4,351.7 H203.4 M199.4,345.8 H203.4 M199.4,334.1 H203.4 M199.4,328.3 H203.4 M199.4,322.4 H203.4 M199.4,316.6 H203.4 M199.4,304.8 H203.4 M199.4,299.0 H203.4 M199.4,293.1 H203.4 M199.4,287.3 H203.4 M199.4,275.6 H203.4 M199.4,269.7 H203.4 M199.4,263.8 H203.4 M199.4,258.0 H203.4 M199.4,246.3 H203.4 M199.4,240.4 H203.4 M199.4,234.5 H203.4 M199.4,228.7 H203.4 M199.4,217.0 H203.4 M199.4,211.1 H203.4 M199.4,205.3 H203.4 M199.4,199.4 H203.4 M199.4,187.7 H203.4 M199.4,181.8 H203.4 M199.4,176.0 H203.4 M199.4,170.1 H203.4 M199.4,158.4 H203.4" stroke="#1a1a1a" stroke-width="1.2" fill="none"/>
<path d="M195.4,574.3 H203.4 M195.4,515.7 H203.4 M195.4,457.2 H203.4 M195.4,398.6 H203.4 M195.4,340.0 H203.4 M195.4,281.4 H203.4 M195.4,222.8 H203.4 M195.4,164.2 H203.4" stroke="#1a1a1a" stroke-width="1.3" fill="none"/>
<path d="M190,603.6 H203.4 M190,545.0 H203.4 M190,486.4 H203.4 M190,427.9 H203.4 M190,369.3 H203.4 M190,310.7 H203.4 M190,252.1 H203.4 M190,193.5 H203.4" stroke="#1a1a1a" stroke-width="1.5" fill="none"/>
<path d="M226.0,624.3 V637 M272.5,624.3 V637 M319.0,624.3 V637 M365.6,624.3 V637 M412.1,624.3 V637 M458.6,624.3 V637 M505.1,624.3 V637 M551.6,624.3 V637 M598.2,624.3 V637 M644.7,624.3 V637 M691.2,624.3 V637" stroke="#1a1a1a" stroke-width="1.3" fill="none"/>
<g font-family="'Liberation Sans', Arial, sans-serif" font-size="16" fill="#1d1d1d" stroke="#1d1d1d" stroke-width="0.25">
<text transform="translate(187.6,609.5) scale(0.87,1)" text-anchor="end">0</text>
<text transform="translate(187.6,550.9) scale(0.87,1)" text-anchor="end">1000</text>
<text transform="translate(187.6,492.3) scale(0.87,1)" text-anchor="end">2000</text>
<text transform="translate(187.6,433.8) scale(0.87,1)" text-anchor="end">3000</text>
<text transform="translate(187.6,375.2) scale(0.87,1)" text-anchor="end">4000</text>
<text transform="translate(187.6,316.6) scale(0.87,1)" text-anchor="end">5000</text>
<text transform="translate(187.6,258.0) scale(0.87,1)" text-anchor="end">6000</text>
<text transform="translate(187.6,199.4) scale(0.87,1)" text-anchor="end">7000</text>
<text transform="translate(226.0,653.1) scale(0.82,1)" text-anchor="middle">0</text>
<text transform="translate(272.5,653.1) scale(0.82,1)" text-anchor="middle">4</text>
<text transform="translate(319.0,653.1) scale(0.82,1)" text-anchor="middle">8</text>
<text transform="translate(365.6,653.1) scale(0.82,1)" text-anchor="middle">12</text>
<text transform="translate(412.1,653.1) scale(0.82,1)" text-anchor="middle">16</text>
<text transform="translate(458.6,653.1) scale(0.82,1)" text-anchor="middle">20</text>
<text transform="translate(505.1,653.1) scale(0.82,1)" text-anchor="middle">24</text>
<text transform="translate(551.6,653.1) scale(0.82,1)" text-anchor="middle">28</text>
<text transform="translate(598.2,653.1) scale(0.82,1)" text-anchor="middle">32</text>
<text transform="translate(644.7,653.1) scale(0.82,1)" text-anchor="middle">36</text>
<text transform="translate(691.2,653.1) scale(0.82,1)" text-anchor="middle">40</text>
</g>
</svg>
<div class="lbl ylab">荧光强度</div>
<div class="lbl xlab">循环数</div>
<svg class="arrow" width="1022" height="719" viewBox="0 0 1022 719"><path d="M814.6,113 H943.8 V149.8 H971.5 L875.7,190 L786.9,149.8 H814.6 Z" fill="#0080cc"/></svg>
<div class="ln" style="top:225.8px"><span class="m" style="left:759.0px">−</span><span class="l" style="left:779.5px">2</span><span class="l" style="left:797.5px">0</span><span class="c" style="left:828.0px">度</span><span class="p" style="left:858.0px">、</span><span class="l" style="left:881.0px">4</span><span class="c" style="left:910.0px">度</span><span class="p" style="left:938.5px">、</span></div>
<div class="ln" style="top:300.3px"><span class="l" style="left:760.0px">2</span><span class="l" style="left:778.5px">0</span><span class="c" style="left:810.5px">度</span><span class="p" style="left:840.0px">、</span><span class="l" style="left:881.0px">3</span><span class="l" style="left:899.5px">7</span><span class="c" style="left:930.0px">度</span></div>
<div class="ln" style="top:375.0px"><span class="c" style="left:770.5px">避</span><span class="c" style="left:809.5px">光</span><span class="c" style="left:848.0px">放</span><span class="c" style="left:887.5px">置</span><span class="l" style="left:919.0px">3</span><span class="l" style="left:939.5px">0</span></div>
<div class="ln" style="top:450.8px"><span class="c" style="left:770.0px">天</span><span class="c" style="left:808.0px">效</span><span class="c" style="left:847.5px">果</span><span class="c" style="left:886.5px">无</span><span class="c" style="left:926.0px">差</span></div>
<div class="ln" style="top:526.8px"><span class="c" style="left:768.5px">异</span><span class="q" style="left:798.0px">。</span></div>
</body>
</html>
